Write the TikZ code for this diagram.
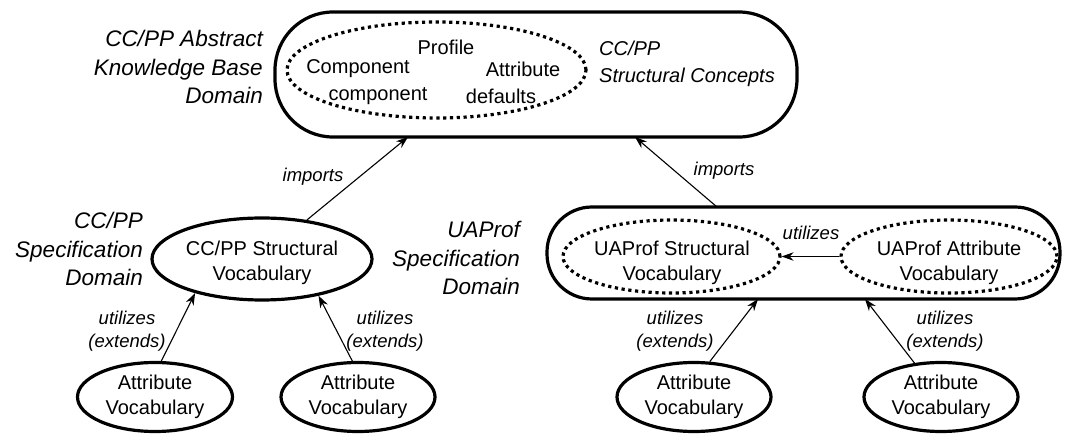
\documentclass[tikz,border=0pt]{standalone}
\usepackage{fontspec}
\setmainfont{Liberation Sans}
\usetikzlibrary{shapes.geometric,arrows.meta}
\begin{document}
\begin{tikzpicture}[x=1pt,y=-1pt,
  body/.style={font=\fontsize{20}{24.5}\selectfont, align=center, inner sep=0pt},
  domlabel/.style={font=\fontsize{22.5}{28.5}\selectfont\itshape, align=right, anchor=east, inner sep=0pt},
  conceptlbl/.style={font=\fontsize{20}{27}\selectfont\itshape, align=left, anchor=west, inner sep=0pt},
  lbl/.style={font=\fontsize{18.5}{23}\selectfont\itshape, align=center, inner sep=0pt},
  solidell/.style={ellipse, draw, line width=3.2pt, inner sep=0pt},
  dotell/.style={ellipse, draw, line width=3.2pt, dash pattern=on 3.2pt off 3.6pt, inner sep=0pt},
  domainbox/.style={draw, line width=3.2pt, rectangle, inner sep=0pt},
  arr/.style={-{Stealth[length=12pt,width=8.5pt]}, line width=1.1pt},
]
\useasboundingbox (0,0) rectangle (1072,435);

% abstract knowledge base domain
\node[domainbox, rounded corners=58pt, minimum width=522pt, minimum height=125pt] (top) at (536,74.5) {};
\node[dotell, minimum width=299pt, minimum height=96pt] (concepts) at (436.5,70) {};
\node[body] (profile) at (446,47) {Profile};
\node[body] (comp1) at (358,69) {Component};
\node[body] (comp2) at (378,96) {component};
\node[body] (attr) at (523,69) {Attribute};
\node[body] (defs) at (501,96) {defaults};
\node[conceptlbl] (structconc) at (599,64) {CC/PP\\Structural Concepts};
\node[domlabel] (abslbl) at (263,67) {CC/PP Abstract\\Knowledge Base\\Domain};

% CC/PP specification domain
\node[solidell, minimum width=220pt, minimum height=82pt] (ccppsv) at (262,259) {};
\node[body] at (262,263) {CC/PP Structural\\Vocabulary};
\node[domlabel] (ccpplbl) at (143,249) {CC/PP\\Specification\\Domain};

% UAProf specification domain
\node[domainbox, rounded corners=45pt, minimum width=513pt, minimum height=92pt] (uabox) at (803.5,253) {};
\node[dotell, minimum width=217pt, minimum height=73pt] (uasv) at (671.5,256.5) {};
\node[body] at (672,263) {UAProf Structural\\Vocabulary};
\node[dotell, minimum width=216pt, minimum height=73pt] (uaav) at (949,256.5) {};
\node[body] at (949,263) {UAProf Attribute\\Vocabulary};
\node[domlabel] (ualbl) at (520,258) {UAProf\\Specification\\Domain};

% attribute vocabularies
\node[solidell, minimum width=155pt, minimum height=69pt] (av1) at (155,397) {};
\node[body] at (av1) {Attribute\\Vocabulary};
\node[solidell, minimum width=154pt, minimum height=69pt] (av2) at (358,397) {};
\node[body] at (av2) {Attribute\\Vocabulary};
\node[solidell, minimum width=154pt, minimum height=69pt] (av3) at (694,397) {};
\node[body] at (av3) {Attribute\\Vocabulary};
\node[solidell, minimum width=154pt, minimum height=69pt] (av4) at (941,397) {};
\node[body] at (av4) {Attribute\\Vocabulary};

% arrow targets on the box outlines
\coordinate (topL) at (408,137);
\coordinate (topR) at (635,137);
\coordinate (uaTop) at (717,207);
\coordinate (uaBotL) at (758,299);
\coordinate (uaBotR) at (865,299);

% connectors
\draw[arr] (ccppsv.41) -- (topL);
\draw[arr] (uaTop) -- (topR);
\draw[arr] (uaav.west) -- (uasv.east);
\draw[arr] (av1.80) -- (ccppsv.207);
\draw[arr] (av2.99) -- (ccppsv.327);
\draw[arr] (av3.66) -- (uaBotL);
\draw[arr] (av4.128) -- (uaBotR);

% connector labels
\node[lbl] (imp1) at (313,177) {imports};
\node[lbl] (imp2) at (724,171) {imports};
\node[lbl] (uti) at (811,233) {utilizes};
\node[lbl] (ue1) at (127,331) {utilizes\\(extends)};
\node[lbl] (ue2) at (385,331) {utilizes\\(extends)};
\node[lbl] (ue3) at (675,331) {utilizes\\(extends)};
\node[lbl] (ue4) at (945,331) {utilizes\\(extends)};
\end{tikzpicture}
\end{document}
